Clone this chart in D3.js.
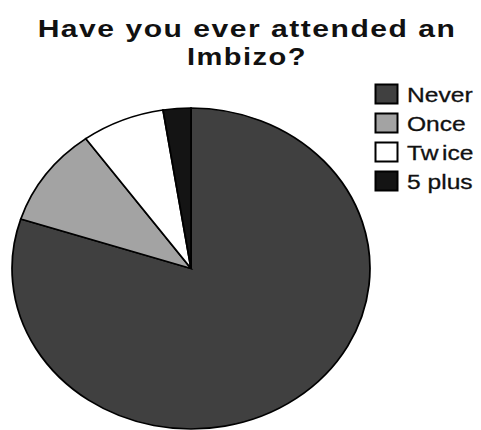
<!DOCTYPE html>
<html>
<head>
<meta charset="utf-8">
<script src="https://cdn.jsdelivr.net/npm/d3@7"></script>
<style>
  html, body { margin: 0; padding: 0; background: #fff; }
  svg { display: block; }
</style>
</head>
<body>
<script>
// Survey responses: "Have you ever attended an Imbizo?"
const categories = ["Never", "Once", "Twice", "5 plus"];
const counts = [64, 8, 6, 2];
const colors = ["#404040", "#a3a3a3", "#ffffff", "#141414"];
const titleLines = ["Have you ever attended an", "Imbizo?"];

const W = 481, H = 430;
const SX = 1.115;               // horizontal stretch of the pie
const R = 160.5;                // vertical radius of the pie
const cx = 191, cy = 268.5;

const svg = d3.select("body").append("svg")
  .attr("width", W).attr("height", H);

// Title: each line stretched horizontally to its set width
const titleSize = 24;
const titleWidths = [419, 120];
const titleY = [37, 65];
titleLines.forEach((line, i) => {
  const t = svg.append("text")
    .attr("text-anchor", "middle")
    .attr("font-family", "'Liberation Sans', Arial, sans-serif")
    .attr("font-weight", "bold")
    .attr("font-size", titleSize)
    .attr("letter-spacing", 1.2)
    .attr("fill", "#111")
    .text(line);
  const w = t.node().getComputedTextLength();
  t.attr("transform", `translate(247,${titleY[i]}) scale(${titleWidths[i] / w},1)`);
});

// Pie
const pie = d3.pie().sort(null).startAngle(0).endAngle(2 * Math.PI);
const arc = d3.arc().innerRadius(0).outerRadius(R);
const data = pie(counts);

const g = svg.append("g")
  .attr("transform", `translate(${cx},${cy}) scale(${SX},1)`);

g.selectAll("path")
  .data(data)
  .join("path")
  .attr("d", arc)
  .attr("fill", (d, i) => colors[i])
  .attr("stroke", "#000")
  .attr("stroke-width", 1.6)
  .attr("stroke-linejoin", "miter");

// Legend
const legendY = d3.scalePoint().domain(categories).range([94, 181]);
const leg = svg.append("g");
const items = leg.selectAll("g.item")
  .data(categories)
  .join("g")
  .attr("class", "item")
  .attr("transform", d => `translate(375,${legendY(d)})`);

items.append("rect")
  .attr("x", 0.5).attr("y", -9.5)
  .attr("width", 22).attr("height", 19)
  .attr("fill", (d, i) => colors[i])
  .attr("stroke", "#000")
  .attr("stroke-width", 2);

items.append("text")
  .attr("transform", "translate(32,7.5) scale(1.2,1)")
  .attr("font-family", "'Liberation Sans', Arial, sans-serif")
  .attr("font-size", 20.5)
  .attr("fill", "#111")
  .attr("stroke", "#111")
  .attr("stroke-width", 0.3)
  .each(function (d) {
    const t = d3.select(this);
    if (d === "Twice") {
      t.append("tspan").text("Tw");
      t.append("tspan").attr("dx", 3).text("ice");
    } else {
      t.text(d);
    }
  });
</script>
</body>
</html>
